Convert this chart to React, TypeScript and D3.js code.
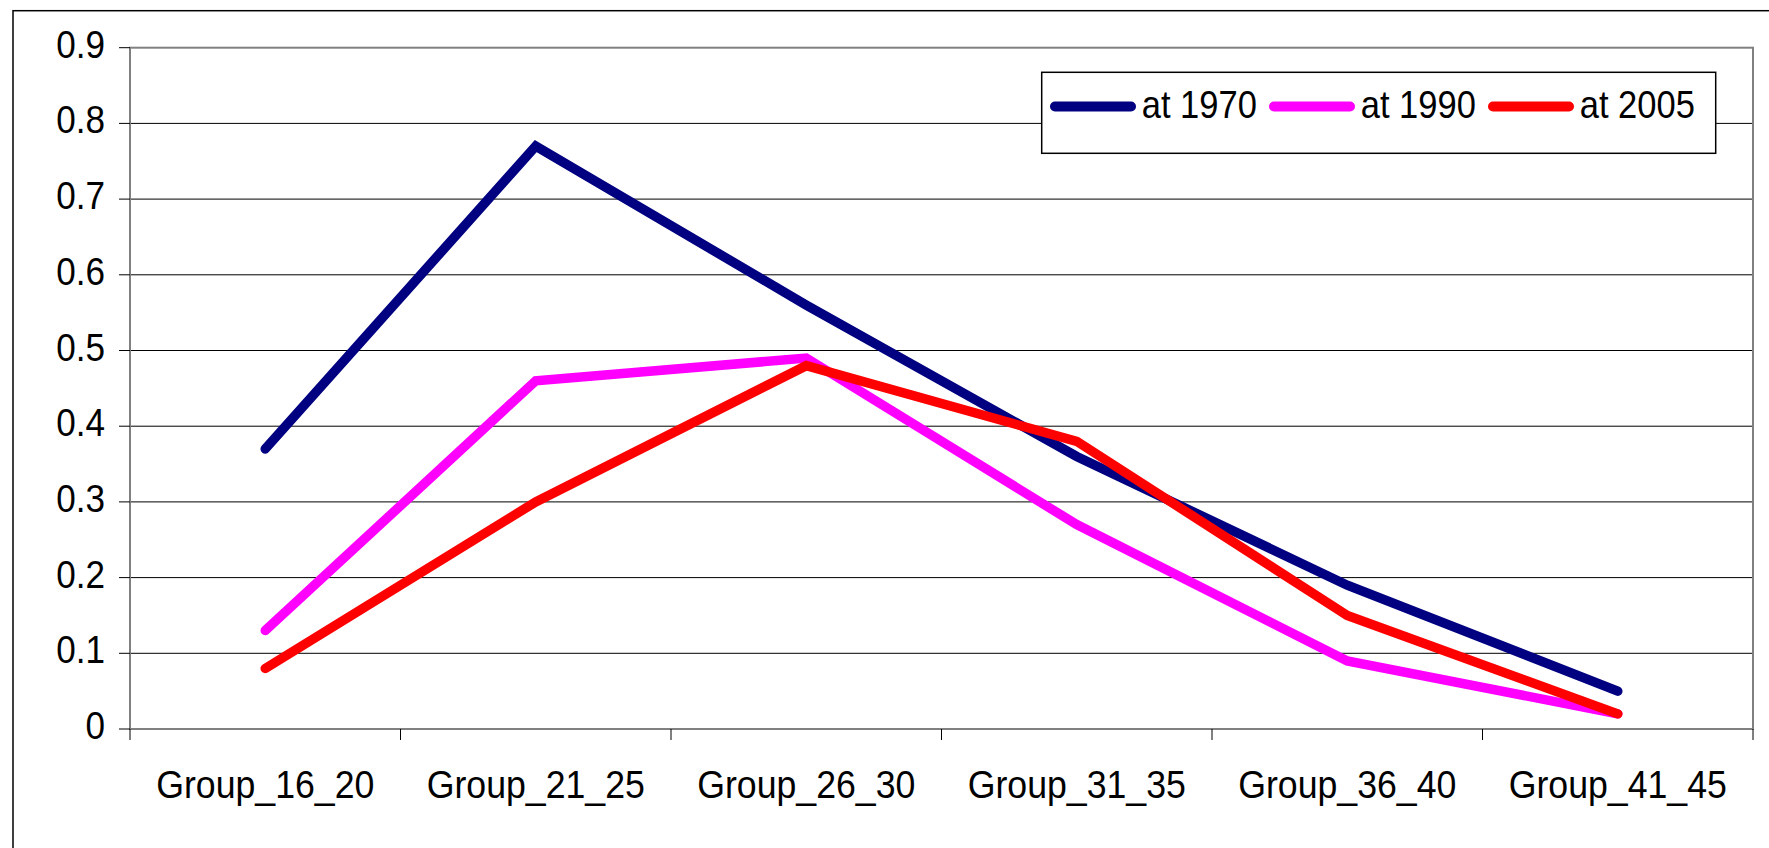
import React, { useEffect, useRef } from "react";
import * as d3 from "d3";

// chart data
const categories = ["Group_16_20", "Group_21_25", "Group_26_30", "Group_31_35", "Group_36_40", "Group_41_45"];
const at1970 = [0.37, 0.77, 0.56, 0.36, 0.19, 0.05];
const at1990 = [0.13, 0.46, 0.49, 0.27, 0.09, 0.02];
const at2005 = [0.08, 0.30, 0.48, 0.38, 0.15, 0.02];
const seriesNames = ["at 1970", "at 1990", "at 2005"];
const seriesColors = ["#000080", "#FF00FF", "#FF0000"];
const yTicks = [0, 0.1, 0.2, 0.3, 0.4, 0.5, 0.6, 0.7, 0.8, 0.9];

export default function App() {
  const ref = useRef<SVGSVGElement>(null);

  useEffect(() => {
    const width = 1769;
    const height = 848;
    const left = 130, right = 1753, top = 47.7, bottom = 729;
    const font = "'Liberation Sans', Arial, sans-serif";

    const svg = d3.select(ref.current);
    svg.selectAll("*").remove();
    svg.attr("width", width).attr("height", height).style("display", "block");

    // outer chart border (right and bottom edges fall outside the picture)
    svg.append("rect")
      .attr("x", 13).attr("y", 10.7)
      .attr("width", 1800).attr("height", 900)
      .attr("fill", "white")
      .attr("stroke", "#000").attr("stroke-width", 1.5);

    const x = d3.scaleBand().domain(categories).range([left, right]);
    const y = d3.scaleLinear().domain([0, 0.9]).range([bottom, top]);
    const cx = (c: string) => (x(c) as number) + x.bandwidth() / 2;

    // gridlines
    svg.selectAll("grid")
      .data(yTicks.filter((t) => t > 0 && t < 0.9))
      .enter()
      .append("line")
      .attr("x1", left).attr("x2", right)
      .attr("y1", (d) => y(d)).attr("y2", (d) => y(d))
      .attr("stroke", "#000").attr("stroke-width", 1);

    // plot area border
    svg.append("rect")
      .attr("x", left).attr("y", top)
      .attr("width", right - left).attr("height", bottom - top)
      .attr("fill", "none")
      .attr("stroke", "#808080").attr("stroke-width", 2);

    // y axis ticks + labels
    svg.selectAll("ytick")
      .data(yTicks)
      .enter()
      .append("line")
      .attr("x1", left - 11).attr("x2", left)
      .attr("y1", (d) => y(d)).attr("y2", (d) => y(d))
      .attr("stroke", "#000");

    svg.selectAll("ylabel")
      .data(yTicks)
      .enter()
      .append("text")
      .attr("transform", (d) => `translate(105,${y(d) + 10}) scale(0.9,1)`)
      .attr("text-anchor", "end")
      .style("font-family", font)
      .style("font-size", "39px")
      .text((d) => String(d));

    // x axis ticks + labels
    const edges = categories.map((c) => x(c) as number).concat([right]);
    svg.selectAll("xtick")
      .data(edges)
      .enter()
      .append("line")
      .attr("x1", (d) => d).attr("x2", (d) => d)
      .attr("y1", bottom).attr("y2", bottom + 11)
      .attr("stroke", "#000");

    svg.selectAll("xlabel")
      .data(categories)
      .enter()
      .append("text")
      .attr("transform", (d) => `translate(${cx(d)},798) scale(0.915,1)`)
      .attr("text-anchor", "middle")
      .style("font-family", font)
      .style("font-size", "39px")
      .text((d) => d);

    // lines
    const line = d3.line<number>()
      .x((_, i) => cx(categories[i]))
      .y((d) => y(d));

    [at1970, at1990, at2005].forEach((s, i) => {
      svg.append("path")
        .attr("d", line(s))
        .attr("fill", "none")
        .attr("stroke", seriesColors[i])
        .attr("stroke-width", 9.5)
        .attr("stroke-linecap", "round")
        .attr("stroke-linejoin", "miter");
    });

    // legend
    const lg = svg.append("g");
    lg.append("rect")
      .attr("x", 1041.7).attr("y", 72.3)
      .attr("width", 674).attr("height", 81)
      .attr("fill", "white")
      .attr("stroke", "#000").attr("stroke-width", 1.5);

    const item = lg.selectAll("item")
      .data(seriesNames)
      .enter()
      .append("g")
      .attr("transform", (_, i) => `translate(${1050 + i * 219},106.5)`);

    item.append("line")
      .attr("x1", 5).attr("x2", 81)
      .attr("y1", 0).attr("y2", 0)
      .attr("stroke", (_, i) => seriesColors[i])
      .attr("stroke-width", 10)
      .attr("stroke-linecap", "round");

    item.append("text")
      .attr("transform", "translate(91.7,11.5) scale(0.885,1)")
      .style("font-family", font)
      .style("font-size", "39px")
      .text((d) => d);
  }, []);

  return (
    <div>
      <style>{"body{margin:0}"}</style>
      <svg ref={ref}></svg>
    </div>
  );
}
